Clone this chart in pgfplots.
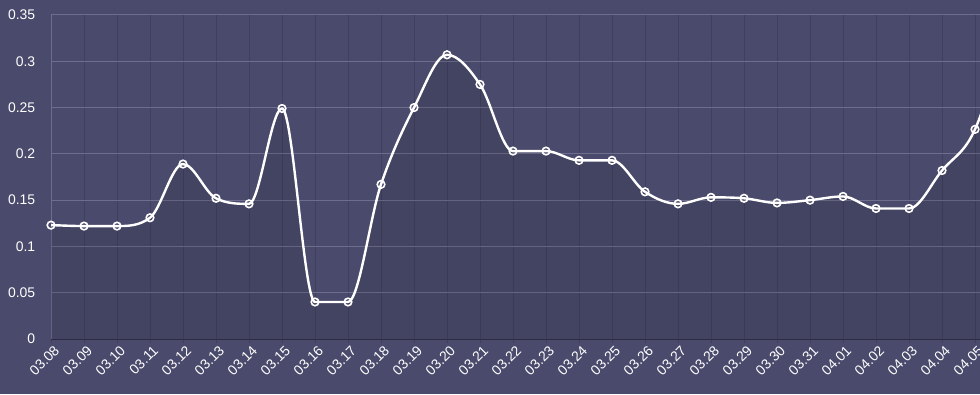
\documentclass[border=0pt]{standalone}
\usepackage{pgfplots}
\pgfplotsset{compat=1.18}
\usepackage{fontspec}
\setmainfont{Liberation Sans}
\definecolor{bg}{HTML}{4A4A6C}
\definecolor{hgrid}{HTML}{6E6D8D}
\definecolor{vgrid}{HTML}{413F5E}
\definecolor{xaxis}{HTML}{2E2D45}
\makeatletter
\newcount\pgfmono@n
\newcount\pgfmono@i
\newcount\pgfmono@j
\def\pgfmono@get#1#2{\csname pgfmono@#1@\the#2\endcsname}
\def\pgfmono@set#1#2#3{\expandafter\xdef\csname pgfmono@#1@\the#2\endcsname{#3}}
\def\pgfplothandlermonotone{%
  \def\pgf@plotstreamstart{%
    \global\pgfmono@n=0\relax
    \global\let\pgf@plotstreampoint=\pgf@plot@mono@point
    \global\let\pgf@plotstreamspecial=\pgfutil@gobble
    \global\let\pgf@plotstreamend=\pgf@plot@mono@end
  }%
}
\def\pgf@plot@mono@point#1{%
  \pgf@process{#1}%
  \global\advance\pgfmono@n by 1\relax
  \pgfmono@set{x}{\pgfmono@n}{\pgf@sys@tonumber\pgf@x}%
  \pgfmono@set{y}{\pgfmono@n}{\pgf@sys@tonumber\pgf@y}%
}
\def\pgf@plot@mono@end{%
  \ifnum\pgfmono@n>0\relax
    \pgf@plot@first@action{\pgfqpoint{\csname pgfmono@x@1\endcsname pt}{\csname pgfmono@y@1\endcsname pt}}%
  \fi
  \ifnum\pgfmono@n>1\relax
    \pgfmono@i=1\relax
    \loop
      \pgfmono@j=\pgfmono@i \advance\pgfmono@j by 1\relax
      \pgfmathparse{((\pgfmono@get{y}{\pgfmono@j})-(\pgfmono@get{y}{\pgfmono@i}))/((\pgfmono@get{x}{\pgfmono@j})-(\pgfmono@get{x}{\pgfmono@i}))}%
      \pgfmono@set{d}{\pgfmono@i}{\pgfmathresult}%
      \advance\pgfmono@i by 1\relax
    \ifnum\pgfmono@i<\pgfmono@n\repeat
    \expandafter\xdef\csname pgfmono@m@1\endcsname{\csname pgfmono@d@1\endcsname}%
    \pgfmono@j=\pgfmono@n \advance\pgfmono@j by -1\relax
    \pgfmono@set{m}{\pgfmono@n}{\pgfmono@get{d}{\pgfmono@j}}%
    \ifnum\pgfmono@n>2\relax
      \pgfmono@i=2\relax
      \loop
        \pgfmono@j=\pgfmono@i \advance\pgfmono@j by -1\relax
        \edef\pgfmono@a{\pgfmono@get{d}{\pgfmono@j}}%
        \edef\pgfmono@b{\pgfmono@get{d}{\pgfmono@i}}%
        \pgfmathparse{((\pgfmono@a)*(\pgfmono@b)>0)*((\pgfmono@a)+(\pgfmono@b))/2}%
        \pgfmono@set{m}{\pgfmono@i}{\pgfmathresult}%
        \advance\pgfmono@i by 1\relax
      \ifnum\pgfmono@i<\pgfmono@n\repeat
    \fi
    \pgfmono@i=1\relax
    \loop
      \pgfmono@j=\pgfmono@i \advance\pgfmono@j by 1\relax
      \edef\pgfmono@d{\pgfmono@get{d}{\pgfmono@i}}%
      \edef\pgfmono@a{\pgfmono@get{m}{\pgfmono@i}}%
      \edef\pgfmono@b{\pgfmono@get{m}{\pgfmono@j}}%
      \pgfmathparse{abs(\pgfmono@d)<0.00001}%
      \ifdim\pgfmathresult pt>0.5pt
        \pgfmono@set{m}{\pgfmono@i}{0}\pgfmono@set{m}{\pgfmono@j}{0}%
      \else
        \pgfmathparse{(\pgfmono@a)*(\pgfmono@a)+(\pgfmono@b)*(\pgfmono@b)>9*(\pgfmono@d)*(\pgfmono@d)}%
        \ifdim\pgfmathresult pt>0.5pt
          \pgfmathsetmacro\pgfmono@t{3*abs(\pgfmono@d)/sqrt((\pgfmono@a)*(\pgfmono@a)+(\pgfmono@b)*(\pgfmono@b))}%
          \pgfmathparse{(\pgfmono@a)*\pgfmono@t}\pgfmono@set{m}{\pgfmono@i}{\pgfmathresult}%
          \pgfmathparse{(\pgfmono@b)*\pgfmono@t}\pgfmono@set{m}{\pgfmono@j}{\pgfmathresult}%
        \fi
      \fi
      \advance\pgfmono@i by 1\relax
    \ifnum\pgfmono@i<\pgfmono@n\repeat
    \pgfmono@i=1\relax
    \loop
      \pgfmono@j=\pgfmono@i \advance\pgfmono@j by 1\relax
      \edef\pgfmono@xa{\pgfmono@get{x}{\pgfmono@i}}%
      \edef\pgfmono@ya{\pgfmono@get{y}{\pgfmono@i}}%
      \edef\pgfmono@xb{\pgfmono@get{x}{\pgfmono@j}}%
      \edef\pgfmono@yb{\pgfmono@get{y}{\pgfmono@j}}%
      \edef\pgfmono@ma{\pgfmono@get{m}{\pgfmono@i}}%
      \edef\pgfmono@mb{\pgfmono@get{m}{\pgfmono@j}}%
      \pgfmathsetmacro\pgfmono@dx{((\pgfmono@xb)-(\pgfmono@xa))/3}%
      \pgfmathsetmacro\pgfmono@cax{(\pgfmono@xa)+\pgfmono@dx}%
      \pgfmathsetmacro\pgfmono@cay{(\pgfmono@ya)+\pgfmono@dx*(\pgfmono@ma)}%
      \pgfmathsetmacro\pgfmono@cbx{(\pgfmono@xb)-\pgfmono@dx}%
      \pgfmathsetmacro\pgfmono@cby{(\pgfmono@yb)-\pgfmono@dx*(\pgfmono@mb)}%
      \pgfpathcurveto{\pgfqpoint{\pgfmono@cax pt}{\pgfmono@cay pt}}{\pgfqpoint{\pgfmono@cbx pt}{\pgfmono@cby pt}}{\pgfqpoint{\pgfmono@xb pt}{\pgfmono@yb pt}}%
      \advance\pgfmono@i by 1\relax
    \ifnum\pgfmono@i<\pgfmono@n\repeat
  \fi
}
\tikzset{monotone cubic/.code={\let\tikz@plot@handler=\pgfplothandlermonotone}}
\makeatother
\pgfplotstableread{
x y
0 0.123
1 0.122
2 0.122
3 0.131
4 0.189
5 0.152
6 0.146
7 0.249
8 0.040
9 0.040
10 0.167
11 0.250
12 0.307
13 0.275
14 0.203
15 0.203
16 0.193
17 0.193
18 0.159
19 0.146
20 0.153
21 0.152
22 0.147
23 0.150
24 0.154
25 0.141
26 0.141
27 0.182
28 0.2265
29 0.34
}\datatable
\begin{document}
\begin{tikzpicture}[x=1bp,y=1bp]
\fill[bg] (0,0) rectangle (980,394);
\useasboundingbox (0,0) rectangle (980,394);
\begin{axis}[
  at={(51bp,55bp)}, anchor=south west,
  scale only axis, width=929bp, height=324bp,
  xmin=0, xmax=28.1515, ymin=0, ymax=0.35,
  axis background/.style={fill=none},
  axis x line*=bottom, axis y line*=left,
  x axis line style={draw=xaxis, line width=1bp, -},
  y axis line style={draw=hgrid, line width=1bp, -},
  xtick={0,...,28},
  xticklabels={03.08,03.09,03.10,03.11,03.12,03.13,03.14,03.15,03.16,03.17,03.18,03.19,03.20,03.21,03.22,03.23,03.24,03.25,03.26,03.27,03.28,03.29,03.30,03.31,04.01,04.02,04.03,04.04,04.05},
  ytick={0,0.05,...,0.36},
  yticklabel style={/pgf/number format/fixed, /pgf/number format/precision=2, /pgf/number format/assume math mode=true, font=\fontsize{14}{16}\selectfont, text=white, xshift=-8bp},
  xticklabel style={rotate=45, anchor=north east, font=\fontsize{14}{16}\selectfont, text=white, xshift=4bp, yshift=1bp},
  scaled y ticks=false,
  tick align=outside,
  xtick style={draw=vgrid, line width=1bp},
  ytick style={draw=none},
  x tick label style={},
  xmajorgrids, ymajorgrids,
  x grid style={draw=vgrid, line width=1bp},
  y grid style={draw=hgrid, line width=1bp},
  clip=true,
]
\addplot[monotone cubic, draw=none, fill=black, fill opacity=0.09] table[x=x,y=y] {\datatable} \closedcycle;
\addplot[monotone cubic, draw=white, line width=2.4bp, mark=o, mark size=3.8bp, mark options={line width=1.6bp, draw=white, fill=none}] table[x=x,y=y] {\datatable};
\end{axis}
\end{tikzpicture}
\end{document}
